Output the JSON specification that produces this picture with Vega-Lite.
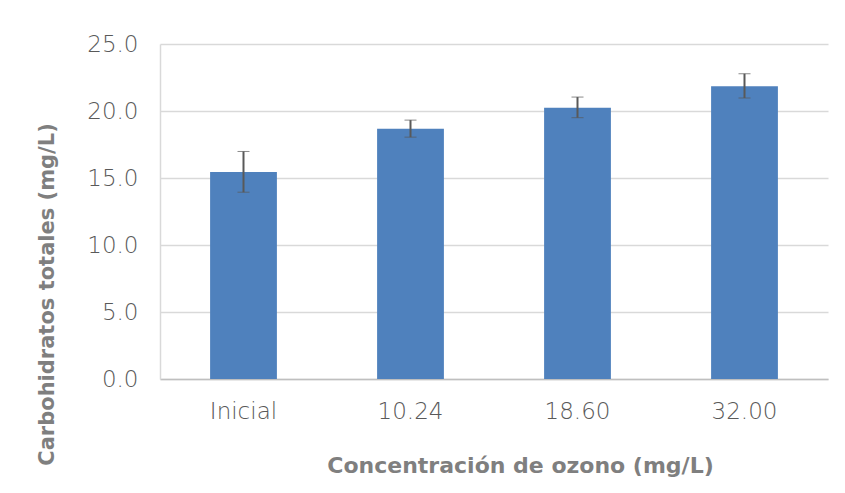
{
  "$schema": "https://vega.github.io/schema/vega-lite/v6.json",
  "width": 668,
  "height": 335,
  "autosize": {"type": "none"},
  "padding": {"left": 160, "top": 44, "right": 17, "bottom": 114},
  "background": "white",
  "config": {
    "view": {"stroke": null},
    "font": "DejaVu Sans"
  },
  "data": {
    "values": [
      {"conc": "Inicial", "value": 15.44, "lo": 13.94, "hi": 16.98},
      {"conc": "10.24", "value": 18.68, "lo": 18.05, "hi": 19.32},
      {"conc": "18.60", "value": 20.24, "lo": 19.5, "hi": 21.04},
      {"conc": "32.00", "value": 21.84, "lo": 20.97, "hi": 22.78}
    ]
  },
  "encoding": {
    "x": {
      "field": "conc",
      "type": "nominal",
      "sort": null,
      "scale": {"paddingInner": 0.6, "paddingOuter": 0.3},
      "axis": {
        "title": "Concentración de ozono (mg/L)",
        "labelAngle": 0,
        "labelFontSize": 23,
        "labelFont": "DejaVu Sans",
        "labelFontWeight": 200,
        "labelColor": "#595959",
        "labelPadding": 21,
        "ticks": false,
        "domainColor": "#bfbfbf",
        "domainWidth": 1.5,
        "titleFontSize": 22,
        "titleFont": "DejaVu Sans",
        "titleFontWeight": "bold",
        "titleColor": "#7f7f7f",
        "titleX": 360,
        "titleY": 86,
        "titleBaseline": "middle",
        "titleAlign": "center"
      }
    }
  },
  "layer": [
    {
      "mark": {"type": "bar", "color": "#4f81bd"},
      "encoding": {
        "y": {
          "field": "value",
          "type": "quantitative",
          "title": "Carbohidratos totales (mg/L)",
          "scale": {"domain": [0, 25], "nice": false},
          "axis": {
            "values": [0, 5, 10, 15, 20, 25],
            "format": ".1f",
            "labelFontSize": 23,
            "labelFont": "DejaVu Sans",
            "labelFontWeight": 200,
            "labelColor": "#595959",
            "labelPadding": 22,
            "ticks": false,
            "domainColor": "#d9d9d9",
            "domainWidth": 1.5,
            "gridColor": "#d9d9d9",
            "gridWidth": 1.5,
            "titleFontSize": 21,
            "titleFont": "DejaVu Sans",
            "titleFontWeight": "bold",
            "titleColor": "#7f7f7f",
            "titleX": -113,
            "titleY": 250,
            "titleBaseline": "middle",
            "titleAlign": "center",
            "titleAngle": -90
          }
        }
      }
    },
    {
      "mark": {"type": "errorbar", "ticks": {"size": 12, "color": "#595959", "strokeWidth": 2}, "rule": {"color": "#595959", "strokeWidth": 2}},
      "encoding": {
        "y": {"field": "lo", "type": "quantitative", "title": "Carbohidratos totales (mg/L)"},
        "y2": {"field": "hi"}
      }
    }
  ]
}
